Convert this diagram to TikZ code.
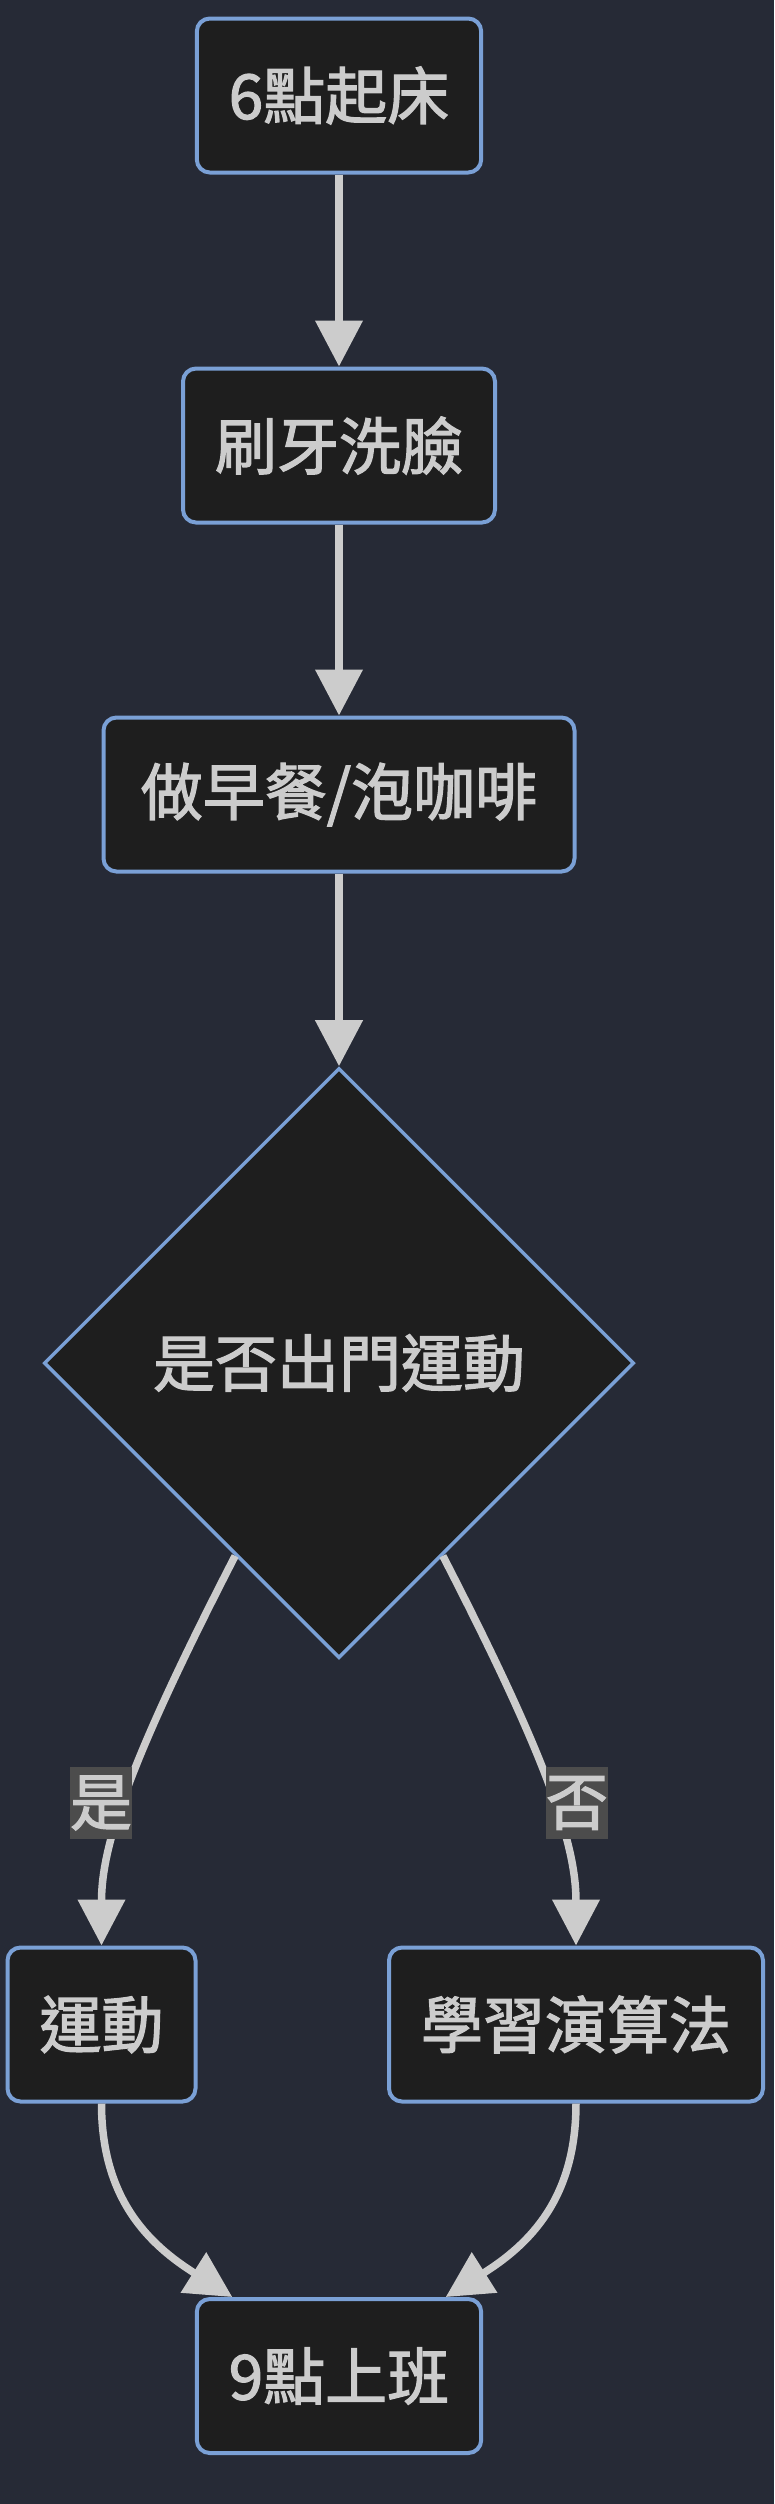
\documentclass[tikz,border=0pt]{standalone}
\usepackage{fontspec}
\setmainfont[FakeBold=2]{Noto Sans CJK TC}
\usepackage{tikz}
\usetikzlibrary{shapes.geometric, arrows.meta, calc}

\definecolor{bgcol}{RGB}{38,42,54}
\definecolor{boxfill}{RGB}{30,30,30}
\definecolor{boxline}{RGB}{122,160,214}
\definecolor{inkcol}{RGB}{204,204,204}
\definecolor{lblfill}{RGB}{76,76,76}

\begin{document}
\begin{tikzpicture}[x=1pt,y=1pt,yscale=-1,
  stepbox/.style={draw=boxline, line width=4pt, fill=boxfill, rounded corners=13pt, text=inkcol, font=\fontsize{62}{70}\selectfont, inner xsep=32pt, inner ysep=0pt, minimum height=154pt},
  choice/.style={diamond, draw=boxline, line width=3.5pt, fill=boxfill, text=inkcol, font=\fontsize{62}{70}\selectfont, inner sep=0pt, minimum width=590pt, minimum height=590pt},
  flow/.style={draw=inkcol, line width=7.5pt, -{Triangle[length=46pt,width=46pt]}},
  answer/.style={fill=lblfill, text=inkcol, font=\fontsize{62}{70}\selectfont, inner sep=0pt, minimum width=62pt, minimum height=72pt}]
%set diagram size to 774 x 2504
\useasboundingbox (0,0) rectangle (774,2504);
\fill[bgcol] (0,0) rectangle (774,2504);

%Shape: Rectangle [wake]
\node[stepbox] (wake) at (339,95.5) {6點起床};
%Shape: Rectangle [wash]
\node[stepbox] (wash) at (339,445.5) {刷牙洗臉};
%Shape: Rectangle [breakfast]
\node[stepbox, minimum width=471pt] (brk) at (339,794.5) {做早餐/泡咖啡};
%Shape: Diamond [ask]
\node[choice] (ask) at (339,1363) {是否出門運動};
%Shape: Rectangle [run]
\node[stepbox] (run) at (101.5,2024.5) {運動};
%Shape: Rectangle [study]
\node[stepbox] (study) at (576,2024.5) {學習演算法};
%Shape: Rectangle [work]
\node[stepbox] (work) at (339,2376) {9點上班};

%Straight Lines
\draw[flow] (wake) -- (wash);
\draw[flow] (wash) -- (brk);
\draw[flow] (brk) -- (ask);

%Curve Lines
\coordinate (yesout) at ($(ask.south west)!0.3!(ask.south)$);
\coordinate (noout) at ($(ask.south east)!0.3!(ask.south)$);
\draw[flow] (yesout) .. controls (130,1760) and (101.5,1845) .. (run.north);
\draw[flow] (noout) .. controls (548,1760) and (576,1845) .. (study.north);
\draw[flow] (run.south) .. controls (101.5,2200) and (150,2245) .. ($(work.north west)!0.13!(work.north east)$);
\draw[flow] (study.south) .. controls (576,2200) and (528,2245) .. ($(work.north west)!0.87!(work.north east)$);

% Text Node
\node[answer] (yes) at (101,1803) {是};
% Text Node
\node[answer] (no) at (577,1803) {否};

\end{tikzpicture}
\end{document}
